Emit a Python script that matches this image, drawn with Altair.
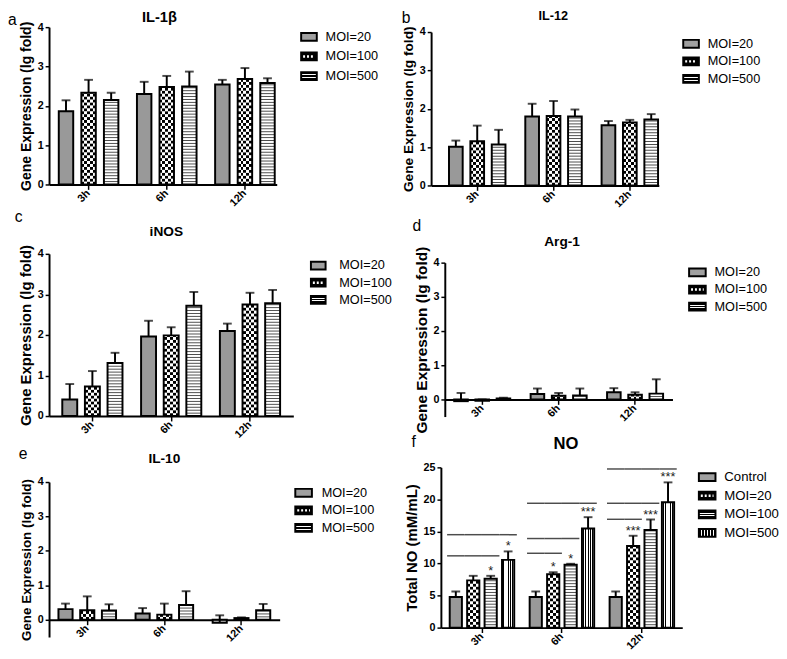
import altair as alt
import pandas as pd

FONT = "Liberation Sans"
TIMES = ["3h", "6h", "12h"]
MOI3 = ["MOI=20", "MOI=100", "MOI=500"]
NO_GROUPS = ["Control", "MOI=20", "MOI=100", "MOI=500"]
LETTERS = ["a", "b", "c", "d", "e", "f"]
TITLES = ["IL-1β", "IL-12", "iNOS", "Arg-1", "IL-10", "NO"]
GENE_YTITLE = "Gene Expression (lg fold)"
NO_YTITLE = "Total NO (mM/mL)"

# rows = groups, columns = 3h, 6h, 12h
IL1B_MEAN = [[1.86, 2.30, 2.54], [2.33, 2.48, 2.68], [2.15, 2.49, 2.58]]
IL1B_SD = [[0.28, 0.31, 0.12], [0.33, 0.28, 0.28], [0.18, 0.38, 0.12]]
IL12_MEAN = [[1.01, 1.80, 1.57], [1.15, 1.81, 1.64], [1.07, 1.80, 1.72]]
IL12_SD = [[0.16, 0.33, 0.11], [0.41, 0.39, 0.07], [0.38, 0.18, 0.14]]
INOS_MEAN = [[0.41, 1.96, 2.10], [0.73, 1.99, 2.75], [1.31, 2.72, 2.78]]
INOS_SD = [[0.38, 0.39, 0.18], [0.38, 0.20, 0.29], [0.25, 0.34, 0.33]]
ARG1_MEAN = [[-0.05, 0.16, 0.21], [-0.04, 0.11, 0.14], [0.03, 0.12, 0.17]]
ARG1_SD = [[0.24, 0.16, 0.12], [0.04, 0.08, 0.07], [0.02, 0.20, 0.42]]
IL10_MEAN = [[0.31, 0.18, -0.09], [0.28, 0.15, 0.05], [0.27, 0.43, 0.28]]
IL10_SD = [[0.16, 0.16, 0.22], [0.40, 0.32, 0.02], [0.18, 0.40, 0.18]]
NO_MEAN = [[4.78, 4.78, 4.78], [7.37, 8.33, 12.75], [7.62, 9.81, 15.24], [10.57, 15.45, 19.56]]
NO_SD = [[0.86, 0.86, 0.86], [0.71, 0.31, 1.58], [0.46, 0.15, 1.63], [1.32, 1.78, 3.10]]

NO_SIG_TIME = ["3h", "3h", "6h", "6h", "6h", "12h", "12h", "12h"]
NO_SIG_TARGET = ["MOI=100", "MOI=500", "MOI=20", "MOI=100", "MOI=500", "MOI=20", "MOI=100", "MOI=500"]
NO_SIG_LEVEL = [11.2, 14.5, 11.6, 13.9, 19.4, 16.9, 19.4, 24.75]
NO_STAR_TIME = ["3h", "3h", "6h", "6h", "6h", "12h", "12h", "12h"]
NO_STAR_GROUP = ["MOI=100", "MOI=500", "MOI=20", "MOI=100", "MOI=500", "MOI=20", "MOI=100", "MOI=500"]
NO_STAR_TEXT = ["*", "*", "*", "*", "***", "***", "***", "***"]

DOT_GRAY = "#999999"


def grad(parts, horizontal=True):
    total = float(sum(w for w, _ in parts))
    stops, pos = [], 0.0
    for w, c in parts:
        stops.append({"offset": round(pos / total, 4), "color": c})
        pos += w
        stops.append({"offset": round(min(pos / total, 1.0), 4), "color": c})
    g = {"gradient": "linear", "stops": stops, "x1": 0, "y1": 0}
    if horizontal:
        g.update(x2=1, y2=0)
    else:
        g.update(x2=0, y2=1)
    return g


def alt_cols(n, c1, c2):
    return grad([(1, c1 if i % 2 == 0 else c2) for i in range(n)])


def panel(p):
    groups = p["groups"]
    recs = []
    for gi, g in enumerate(groups):
        for ti, t in enumerate(TIMES):
            m = p["mean"][gi][ti]
            s = p["sd"][gi][ti]
            recs.append({"time": t, "group": g, "mean": m, "top": m + s})
    df = pd.DataFrame(recs)

    W, Hv, top = p["W"], p["Hv"], p["top"]
    ymin, ymax = p["ydom"]
    ppu = (Hv - top) / (ymax - ymin)
    xstep = W / (3 - p["xpI"] + 2 * p["xpO"])
    gbw = xstep * (1 - p["xpI"])
    ostep = gbw / (len(groups) - p["opI"])
    bw = ostep * (1 - p["opI"])

    xenc = alt.X("time:N",
                 scale=alt.Scale(domain=TIMES, paddingInner=p["xpI"], paddingOuter=p["xpO"], align=p["xal"]),
                 axis=alt.Axis(title=None, labelAngle=-45, labelAlign="right", labelBaseline="middle",
                               offset=p.get("xoff", 0), domainWidth=2, tickWidth=1.5, tickSize=5))
    oscale = alt.Scale(domain=groups, paddingInner=p["opI"], paddingOuter=0)
    xo = alt.XOffset("group:N", scale=oscale)
    ys = alt.Scale(domain=[ymin, ymax], range=[Hv, top], nice=False)
    yaxis = alt.Axis(values=p["yticks"], title=p["ytitle"], titleFontSize=p["ytfs"], domainWidth=2,
                     tickWidth=1.5, tickSize=4, labelPadding=2, titlePadding=p.get("ytp", 4))

    base = alt.Chart(df)
    layers = [base.mark_bar(color="white").encode(x=xenc, xOffset=xo, y=alt.Y("mean:Q", scale=ys, axis=yaxis))]

    for g, kind in zip(groups, p["patterns"]):
        fb = base.transform_filter(alt.datum.group == g)
        if kind == "dots":
            layers.append(fb.mark_bar(color=DOT_GRAY).encode(
                x=xenc, xOffset=xo, y=alt.Y("mean:Q", scale=ys, axis=yaxis)))
        elif kind == "checker":
            cell = 3.0
            step = cell / ppu
            ncol = max(2, int(round(bw / cell)))
            gA, gB = alt_cols(ncol, "black", "white"), alt_cols(ncol, "white", "black")
            lay = fb.transform_calculate(
                r=f"sequence(0, datum.mean, {step:.5f})"
            ).transform_flatten(["r"]).transform_calculate(
                r2=f"min(datum.r + {step:.5f}, datum.mean)",
                par=f"round(datum.r / {step:.5f}) % 2"
            ).mark_bar().encode(
                x=xenc, xOffset=xo, y=alt.Y("r:Q", scale=ys, axis=yaxis), y2="r2:Q",
                fill=alt.condition("datum.par == 0", alt.value(gA), alt.value(gB)))
            layers.append(lay)
        elif kind == "hstripes":
            step = 3.0 / ppu
            lay = fb.transform_calculate(
                r=f"sequence({step:.5f}, datum.mean, {step:.5f})"
            ).transform_flatten(["r"]).mark_tick(
                orient="horizontal", color="black", thickness=1, size=bw
            ).encode(x=xenc, xOffset=xo, y=alt.Y("r:Q", scale=ys, axis=yaxis))
            layers.append(lay)
        elif kind == "vstripes":
            parts = []
            for _ in range(5):
                parts += [(1.5, "white"), (1.0, "black")]
            parts.append((1.5, "white"))
            layers.append(fb.mark_bar(fill=grad(parts)).encode(
                x=xenc, xOffset=xo, y=alt.Y("mean:Q", scale=ys, axis=yaxis)))

    layers.append(base.mark_rule(color="black", strokeWidth=2).encode(
        x=xenc, xOffset=xo, y=alt.Y("mean:Q", scale=ys, axis=yaxis), y2="top:Q"))
    layers.append(base.mark_tick(orient="horizontal", color="black", thickness=2, size=9).encode(
        x=xenc, xOffset=xo, y=alt.Y("top:Q", scale=ys, axis=yaxis)))
    layers.append(base.mark_bar(fillOpacity=0, stroke="black", strokeWidth=2).encode(
        x=xenc, xOffset=xo, y=alt.Y("mean:Q", scale=ys, axis=yaxis)))

    if p.get("sig"):
        sig = pd.DataFrame({"time": NO_SIG_TIME, "target": NO_SIG_TARGET, "level": NO_SIG_LEVEL})
        glist = "[" + ",".join(f"'{g}'" for g in groups) + "]"
        layers.append(alt.Chart(sig).transform_calculate(
            idx=f"indexof({glist}, datum.target)"
        ).transform_calculate(
            k="sequence(0, datum.idx + 1)"
        ).transform_flatten(["k"]).transform_calculate(
            group=f"{glist}[datum.k]"
        ).mark_tick(orient="horizontal", color="black", thickness=1.5, size=ostep).encode(
            x=xenc, xOffset=xo, y=alt.Y("level:Q", scale=ys, axis=yaxis)))
        stars = pd.DataFrame({"time": NO_STAR_TIME, "group": NO_STAR_GROUP, "star": NO_STAR_TEXT})
        sdf = stars.merge(df, on=["time", "group"])
        layers.append(alt.Chart(sdf).mark_text(baseline="alphabetic", dy=-1, fontSize=13, font=FONT,
                                               color="#222").encode(
            x=xenc, xOffset=xo, y=alt.Y("top:Q", scale=ys, axis=yaxis), text="star:N"))

    inner = alt.layer(*layers)

    # legend
    leg = pd.DataFrame({"group": groups})
    r0, r1 = p["legR"]
    lstep = (r1 - r0) / len(groups)
    lpI = 1 - 8.0 / lstep
    ly = alt.Y("group:N",
               scale=alt.Scale(domain=groups, range=[r0, r1], paddingInner=lpI, paddingOuter=lpI / 2),
               axis=None)
    sx0, sx1 = p["legX"]
    leg_layers = []
    for g, kind in zip(groups, p["patterns"]):
        fl = alt.Chart(leg).transform_filter(alt.datum.group == g)
        if kind == "dots":
            fill = "#a0a0a0"
        elif kind == "checker":
            fill = "black"
        elif kind == "hstripes":
            fill = grad([(2.3, "black"), (1, "white"), (1.4, "black"), (1, "white"), (2.3, "black")], False)
        else:
            parts = [(1.3, "black")]
            for _ in range(5):
                parts += [(0.9, "white"), (1.3, "black")]
            fill = grad(parts)
        leg_layers.append(fl.mark_rect(fill=fill, stroke="black", strokeWidth=2).encode(
            x=alt.value(sx0 + 1), x2=alt.value(sx1 - 1), y=ly))
        if kind == "checker":
            leg_layers.append(fl.mark_rule(color="white", strokeWidth=2.5, strokeDash=[2, 2]).encode(
                x=alt.value(sx0 + 3), x2=alt.value(sx1 - 3), y=ly))
    leg_layers.append(alt.Chart(leg).mark_text(align="left", baseline="middle", font=FONT,
                                               fontSize=p["legFs"], color="black").encode(
        x=alt.value(p["legT"]), y=ly, text="group:N"))
    legend = alt.layer(*leg_layers)

    txt = pd.DataFrame({"letter": [p["letter"]], "title": [p["title"]]})
    lx, lyy = p["letterXY"]
    tx, ty = p["titleXY"]
    letter = alt.Chart(txt).mark_text(align="left", baseline="alphabetic", font=FONT, fontSize=16,
                                      color="black").encode(x=alt.value(lx), y=alt.value(lyy), text="letter:N")
    title = alt.Chart(txt).mark_text(align="center", baseline="alphabetic", font=FONT, fontSize=p["titleFs"],
                                     fontWeight="bold", color="black").encode(
        x=alt.value(tx), y=alt.value(ty), text="title:N")

    return alt.layer(inner, legend, letter, title).resolve_scale(y="independent").properties(width=W, height=Hv)


P = [
    dict(letter=LETTERS[0], title=TITLES[0], groups=MOI3, mean=IL1B_MEAN, sd=IL1B_SD, W=233, Hv=161, top=0,
         ydom=[0, 4], yticks=[0, 1, 2, 3, 4], ytitle=GENE_YTITLE, ytfs=14.3,
         xpI=0.2375, xpO=0.075, xal=0.83, opI=0.36, patterns=["dots", "checker", "hstripes"],
         legR=[0, 60], legX=[257, 275], legT=283, legFs=13,
         letterXY=[-42, -2], titleXY=[113, -5], titleFs=15),
    dict(letter=LETTERS[1], title=TITLES[1], groups=MOI3, mean=IL12_MEAN, sd=IL12_SD, W=233, Hv=162, top=5,
         ydom=[0, 4], yticks=[0, 1, 2, 3, 4], ytitle=GENE_YTITLE, ytfs=14,
         xpI=0.26, xpO=0.122, xal=0.96, opI=0.36, patterns=["dots", "checker", "hstripes"],
         legR=[8, 62], legX=[257, 275], legT=283, legFs=13,
         letterXY=[-30, -4], titleXY=[125, -7], titleFs=13),
    dict(letter=LETTERS[2], title=TITLES[2], groups=MOI3, mean=INOS_MEAN, sd=INOS_SD, W=250, Hv=166, top=0,
         ydom=[0, 4], yticks=[0, 1, 2, 3, 4], ytitle=GENE_YTITLE, ytfs=15.3,
         xpI=0.236, xpO=0.168, xal=0.5, opI=0.34, patterns=["dots", "checker", "hstripes"],
         legR=[3.25, 55.75], legX=[267, 284], legT=297, legFs=13,
         letterXY=[-35, -33], titleXY=[120, -18], titleFs=14),
    dict(letter=LETTERS[3], title=TITLES[3], groups=MOI3, mean=ARG1_MEAN, sd=ARG1_SD, W=233, Hv=166.5, top=9,
         ydom=[-0.5, 4], yticks=[0, 1, 2, 3, 4], ytitle=GENE_YTITLE, ytfs=15.8, xoff=-17.5,
         xpI=0.267, xpO=0.123, xal=0.5, opI=0.36, patterns=["dots", "checker", "hstripes"],
         legR=[10.25, 62.75], legX=[249, 268], legT=276, legFs=13,
         letterXY=[-33, -23], titleXY=[120, -8], titleFs=14),
    dict(letter=LETTERS[4], title=TITLES[4], groups=MOI3, mean=IL10_MEAN, sd=IL10_SD, W=236, Hv=173.6, top=15,
         ydom=[-0.5, 4], yticks=[0, 1, 2, 3, 4], ytitle=GENE_YTITLE, ytfs=13.7, xoff=-17.6,
         xpI=0.253, xpO=0.122, xal=0.5, opI=0.35, patterns=["dots", "checker", "hstripes"],
         legR=[17, 71], legX=[251, 270], legT=279, legFs=13,
         letterXY=[-31, -9], titleXY=[118, -4], titleFs=14),
    dict(letter=LETTERS[5], title=TITLES[5], groups=NO_GROUPS, mean=NO_MEAN, sd=NO_SD, W=247, Hv=164, top=0,
         ydom=[0, 25], yticks=[0, 5, 10, 15, 20, 25], ytitle=NO_YTITLE, ytfs=15.3, sig=True,
         xpI=0.193, xpO=0.106, xal=0.52, opI=0.3, patterns=["dots", "checker", "hstripes", "vstripes"],
         legR=[0.5, 76.5], legX=[263, 282], legT=290, legFs=13.5,
         letterXY=[-30, -21], titleXY=[128, -19], titleFs=17),
]

panels = [panel(p) for p in P]


def indep(c):
    return c.resolve_scale(x="independent", y="independent", xOffset="independent")


row1 = indep(alt.hconcat(panels[0], panels[1], spacing=23))
row2 = indep(alt.hconcat(panels[2], panels[3], spacing=21))
row3 = indep(alt.hconcat(panels[4], panels[5], spacing=30))
top2 = indep(alt.vconcat(row1, row2, spacing=0))

chart = indep(alt.vconcat(top2, row3, spacing=-5.5)).properties(
    padding={"left": 0, "top": -5, "right": 0, "bottom": 0}
).configure_view(stroke=None).configure_axis(
    domainColor="black", tickColor="black", labelColor="black", titleColor="black",
    labelFont=FONT, titleFont=FONT, labelFontSize=11, labelFontWeight="bold",
    titleFontWeight="bold", grid=False
)

chart.save("out.html", embed_options={"renderer": "svg", "actions": False})
